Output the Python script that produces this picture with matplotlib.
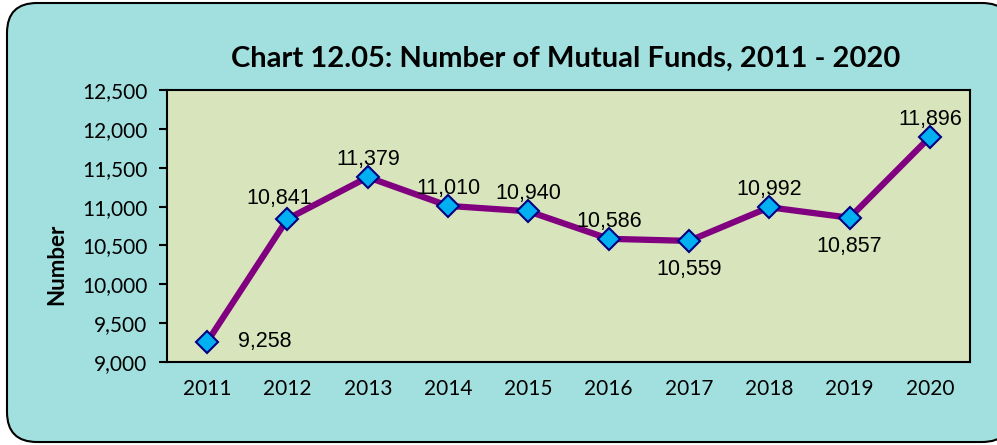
import matplotlib
matplotlib.use("Agg")
from matplotlib import pyplot as plt
from matplotlib.patches import FancyBboxPatch
from matplotlib.transforms import IdentityTransform

years = ["2011", "2012", "2013", "2014", "2015", "2016", "2017", "2018", "2019", "2020"]
funds = [9258, 10841, 11379, 11010, 10940, 10586, 10559, 10992, 10857, 11896]
# where each value label sits relative to its point
label_pos = ["right", "upleft", "up", "up", "up", "up", "down", "up", "down", "up"]
yticks = [9000, 9500, 10000, 10500, 11000, 11500, 12000, 12500]

fig = plt.figure(figsize=(9.97, 4.45), dpi=100)
fig.patch.set_facecolor("white")

# rounded frame behind everything (pixel coords)
box = FancyBboxPatch((7, 3), 1005, 439, boxstyle="round,pad=0,rounding_size=30",
                     transform=IdentityTransform(), facecolor="#A2E0E0",
                     edgecolor="black", linewidth=1.5, zorder=-10)
fig.patches.append(box)

ax = fig.add_axes([0.1675, 0.1865, 0.8055, 0.611])
ax.set_facecolor("#D8E4BC")
x = list(range(len(years)))
ax.plot(x, funds, color="#800080", linewidth=4.5, marker="D", markersize=11,
        markerfacecolor="#00B0F0", markeredgecolor="#000080", markeredgewidth=1.5, zorder=3)

lab = dict(fontsize=15.5, family="Liberation Sans", textcoords="offset points")
for i, v in enumerate(funds):
    txt = f"{v:,}"
    pos = label_pos[i]
    if pos == "right":
        ax.annotate(txt, (i, v), xytext=(22, 0), ha="left", va="center", **lab)
    elif pos == "upleft":
        ax.annotate(txt, (i, v), xytext=(-6, 7), ha="center", va="bottom", **lab)
    elif pos == "up":
        ax.annotate(txt, (i, v), xytext=(0, 5), ha="center", va="bottom", **lab)
    else:
        ax.annotate(txt, (i, v), xytext=(0, -13), ha="center", va="top", **lab)

ax.set_xlim(-0.5, len(years) - 0.5)
ax.set_ylim(9000, 12500)
ax.set_yticks(yticks)
ax.set_yticklabels([f"{t:,}" for t in yticks], fontsize=15, family="Lato")
ax.set_xticks(x)
ax.set_xticklabels(years, fontsize=15, family="Lato")
ax.tick_params(axis="x", length=0, pad=12)
ax.tick_params(axis="y", length=6, width=1.5, direction="out", pad=8)
for s in ax.spines.values():
    s.set_linewidth(1.5)
    s.set_color("black")

fig.text(0.567, 0.868, "Chart 12.05: Number of Mutual Funds, 2011 - 2020", ha="center",
         va="center", fontsize=21, fontweight="bold", family="Lato")
fig.text(0.057, 0.405, "Number", rotation=90, ha="center", va="center",
         fontsize=16, fontweight="bold", family="Lato")

fig.savefig("out.png", dpi=100)
